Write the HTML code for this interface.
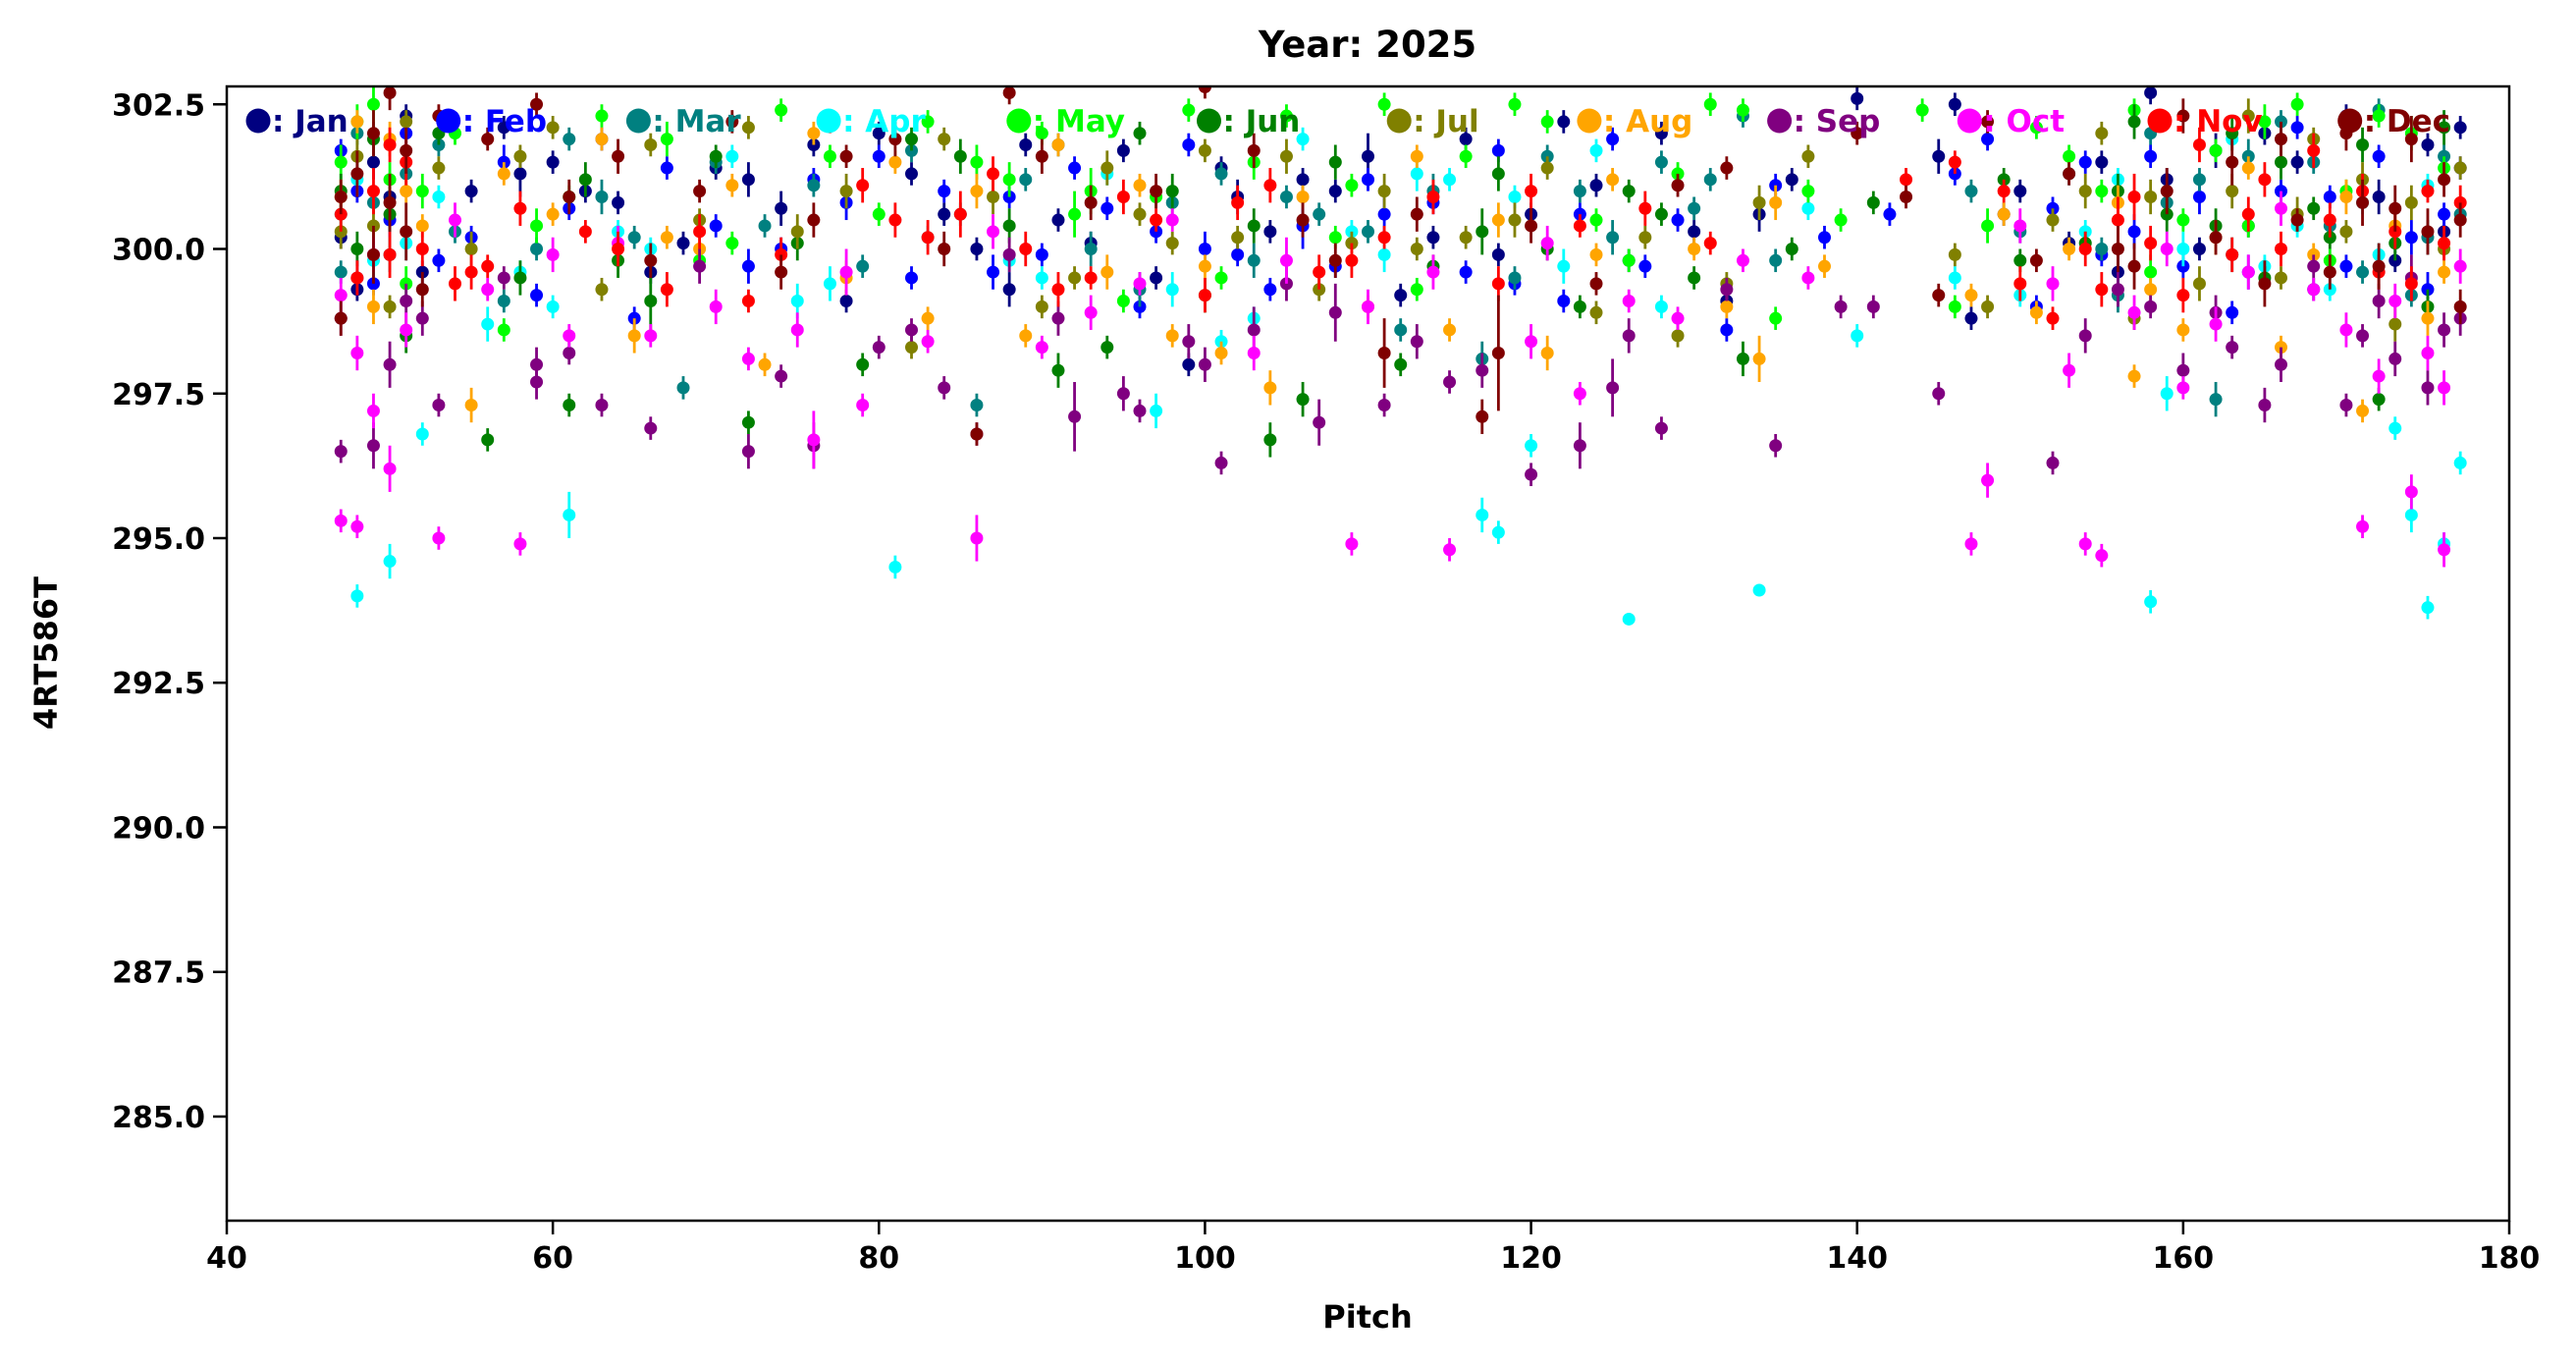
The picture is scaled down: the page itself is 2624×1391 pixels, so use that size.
<!DOCTYPE html>
<html><head><meta charset="utf-8">
<style>
html,body{margin:0;padding:0;background:#fff;}
svg{display:block;}
text{font-family:"DejaVu Sans","Liberation Sans",sans-serif;font-weight:bold;}
</style></head>
<body>
<svg id="chart" width="2624" height="1391" viewBox="0 0 2624 1391" xmlns="http://www.w3.org/2000/svg">
<rect x="0" y="0" width="2624" height="1391" fill="#fff"/>
<text x="1393" y="58" font-size="37" text-anchor="middle">Year: 2025</text>
<g id="marks"></g>
<g id="axes"></g>
<g id="legend"></g>
<text x="1393" y="1352" font-size="32" text-anchor="middle">Pitch</text>
<text x="58" y="665" font-size="32" text-anchor="middle" transform="rotate(-90 58 665)">4RT586T</text>
</svg>
<script>
const months = ["Jan","Feb","Mar","Apr","May","Jun","Jul","Aug","Sep","Oct","Nov","Dec"];
const colors = ["#000080","#0000ff","#008080","#00ffff","#00ff00","#008000","#808000","#ffa500","#800080","#ff00ff","#ff0000","#800000"];
const xTicks = [40,60,80,100,120,140,160,180];
const yTicks = [285.0,287.5,290.0,292.5,295.0,297.5,300.0,302.5];
const jan = [[47,300.2,.2],[49,301.5,.3],[51,302.3,.2],[55,301.0,.2],[58,301.3,.4],[60,301.5,.2],[64,300.8,.2],[68,300.1,.2],[72,301.2,.3],[76,301.8,.2],[80,302.0,.2],[84,300.6,.2],[88,299.3,.3],[91,300.5,.2],[95,301.7,.2],[99,298.0,.2],[102,300.9,.3],[106,301.2,.2],[110,301.6,.4],[114,300.2,.2],[118,299.9,.2],[122,302.2,.2],[126,299.8,.2],[130,300.3,.2],[134,300.6,.3],[140,302.6,.2],[145,301.6,.3],[147,298.8,.2],[150,301.0,.2],[155,301.5,.2],[158,302.7,.2],[161,300.0,.2],[165,302.0,.2],[168,299.3,.2],[172,300.9,.3],[175,301.8,.2],
 [48,299.3,.2],[50,300.9,.3],[52,299.6,.2],[57,302.1,.2],[62,301.0,.2],[66,299.6,.2],[70,301.4,.2],[74,300.7,.3],[78,299.1,.2],[82,301.3,.2],[86,300.0,.2],[89,301.8,.2],[93,300.1,.2],[97,299.5,.2],[101,301.4,.2],[104,300.3,.2],[108,301.0,.2],[112,299.2,.2],[116,301.9,.2],[120,300.6,.2],[124,301.1,.2],[128,302.0,.2],[132,299.1,.2],[136,301.2,.2],[146,302.5,.2],[149,300.6,.2],[153,300.1,.2],[156,299.6,.3],[159,301.2,.2],[162,301.7,.3],[164,300.4,.2],[167,301.5,.2],[170,302.3,.2],[173,299.8,.2],[176,300.3,.2],[177,302.1,.2]];
const feb = [[48,301.0,.2],[50,300.5,.3],[53,299.8,.2],[57,301.5,.3],[61,300.7,.2],[65,298.8,.2],[70,300.4,.2],[74,300.0,.2],[78,300.8,.3],[82,299.5,.2],[87,299.6,.3],[90,299.9,.2],[94,300.7,.2],[97,300.3,.2],[100,300.0,.3],[104,299.3,.2],[108,299.7,.2],[111,300.6,.4],[116,299.6,.2],[119,299.4,.2],[123,300.6,.2],[127,299.7,.2],[132,298.6,.2],[138,300.2,.2],[146,301.3,.2],[151,299.0,.2],[154,301.5,.2],[157,300.3,.3],[160,299.7,.2],[163,298.9,.2],[166,301.0,.2],[170,299.7,.2],[174,300.2,.3],[176,300.6,.2],
 [47,301.7,.2],[49,299.4,.2],[51,302.0,.3],[55,300.2,.2],[59,299.2,.2],[63,301.9,.2],[67,301.4,.2],[72,299.7,.3],[76,301.2,.2],[80,301.6,.2],[84,301.0,.2],[88,300.9,.2],[92,301.4,.2],[96,299.0,.2],[99,301.8,.2],[102,299.9,.2],[106,300.4,.4],[110,301.2,.2],[114,300.8,.2],[118,301.7,.2],[122,299.1,.2],[125,301.9,.2],[129,300.5,.2],[135,301.1,.2],[142,300.6,.2],[148,301.9,.2],[152,300.7,.2],[155,299.9,.2],[158,301.6,.2],[161,300.9,.3],[164,299.6,.3],[167,302.1,.2],[169,300.9,.2],[172,301.6,.2],[175,299.3,.3],[177,301.4,.2]];
const mar = [[49,300.8,.2],[51,301.3,.3],[54,300.3,.2],[59,300.0,.2],[63,300.9,.3],[68,297.6,.2],[73,300.4,.2],[79,299.7,.2],[86,297.3,.2],[89,301.2,.2],[93,300.0,.3],[98,300.8,.2],[103,299.8,.3],[107,300.6,.2],[112,298.6,.2],[117,298.1,.3],[121,301.6,.2],[125,300.2,.3],[128,301.5,.2],[131,301.2,.2],[135,299.8,.2],[150,300.3,.2],[156,299.2,.3],[159,300.8,.2],[162,297.4,.3],[164,301.6,.3],[169,300.4,.2],[171,299.6,.2],[175,300.2,.3],
 [47,299.6,.2],[48,302.0,.2],[50,299.9,.3],[53,301.8,.2],[57,299.1,.2],[61,301.9,.2],[65,300.2,.2],[70,301.5,.2],[76,301.1,.2],[82,301.7,.2],[85,300.6,.2],[91,301.8,.2],[96,299.3,.3],[101,301.3,.2],[105,300.9,.2],[110,300.3,.2],[114,301.0,.3],[119,299.5,.2],[123,301.0,.2],[130,300.7,.2],[133,302.3,.2],[147,301.0,.2],[153,301.3,.2],[155,300.0,.2],[158,302.0,.2],[161,301.2,.2],[163,299.9,.3],[166,302.2,.2],[168,301.5,.2],[172,302.4,.2],[174,299.2,.2],[176,301.6,.2],[177,300.6,.2]];
const apr = [[48,294.0,.2],[50,294.6,.3],[52,296.8,.2],[56,298.7,.3],[61,295.4,.4],[66,300.0,.2],[75,299.1,.3],[81,294.5,.2],[88,299.8,.2],[97,297.2,.3],[101,298.4,.2],[109,300.3,.2],[113,301.3,.3],[117,295.4,.3],[118,295.1,.2],[120,296.6,.2],[124,301.7,.2],[126,293.6,.1],[134,294.1,.1],[140,298.5,.2],[146,299.5,.2],[158,293.9,.2],[159,297.5,.3],[167,300.4,.2],[173,296.9,.2],[174,295.4,.3],[175,293.8,.2],[176,294.9,.2],[177,296.3,.2],
 [47,300.6,.2],[48,301.2,.3],[49,299.8,.3],[51,300.1,.3],[53,300.9,.2],[58,299.6,.2],[60,299.0,.2],[64,300.3,.2],[71,301.6,.2],[77,299.4,.3],[83,300.2,.2],[90,299.5,.2],[94,301.3,.2],[98,299.3,.3],[103,298.8,.2],[106,301.9,.2],[111,299.9,.3],[115,301.2,.2],[119,300.9,.2],[122,299.7,.3],[128,299.0,.2],[137,300.7,.2],[150,299.2,.2],[154,300.3,.2],[156,301.2,.2],[160,300.0,.3],[163,301.9,.2],[165,299.7,.2],[169,299.3,.2],[171,300.8,.2],[172,299.9,.2],[175,301.1,.2]];
const may = [[47,301.5,.3],[49,302.5,.3],[52,301.0,.3],[57,298.6,.2],[61,300.9,.2],[67,301.9,.3],[71,300.1,.2],[77,301.6,.2],[83,302.2,.2],[88,301.2,.3],[92,300.6,.4],[95,299.1,.2],[99,302.4,.2],[103,301.5,.3],[108,300.2,.2],[111,302.5,.2],[116,301.6,.2],[121,302.2,.2],[126,299.8,.2],[131,302.5,.2],[135,298.8,.2],[139,300.5,.2],[144,302.4,.2],[148,300.4,.3],[153,301.6,.2],[157,302.4,.2],[160,300.5,.2],[165,302.2,.3],[170,301.0,.2],[174,302.0,.3],
 [48,302.2,.3],[50,301.2,.3],[51,299.4,.3],[54,302.0,.2],[59,300.4,.3],[63,302.3,.2],[69,299.8,.2],[74,302.4,.2],[80,300.6,.2],[86,301.5,.3],[90,302.0,.2],[93,301.0,.4],[97,300.9,.2],[101,299.5,.2],[105,302.3,.2],[109,301.1,.2],[113,299.3,.2],[119,302.5,.2],[124,300.5,.2],[129,301.3,.2],[133,302.4,.2],[137,301.0,.2],[146,299.0,.2],[151,302.1,.2],[155,301.0,.2],[158,299.6,.3],[162,301.7,.2],[164,300.4,.2],[167,302.5,.2],[169,299.8,.2],[172,302.3,.2],[176,301.4,.2]];
const jun = [[48,300.0,.3],[51,298.5,.3],[56,296.7,.2],[61,297.3,.2],[66,299.1,.5],[72,297.0,.2],[79,298.0,.2],[85,301.6,.3],[91,297.9,.3],[94,298.3,.2],[98,301.0,.3],[104,296.7,.3],[106,297.4,.3],[112,298.0,.2],[117,300.3,.4],[121,300.0,.2],[126,301.0,.2],[130,299.5,.2],[133,298.1,.3],[141,300.8,.2],[150,299.8,.2],[156,301.0,.3],[162,300.4,.3],[165,299.5,.2],[169,300.2,.2],[172,297.4,.2],[175,299.0,.3],
 [47,301.0,.3],[49,301.9,.3],[50,300.6,.3],[53,302.0,.2],[58,299.5,.3],[62,301.2,.3],[64,299.8,.3],[70,301.6,.2],[75,300.1,.3],[82,301.9,.2],[88,300.4,.3],[96,302.0,.2],[100,299.2,.3],[103,300.4,.3],[108,301.5,.3],[114,299.7,.2],[118,301.3,.3],[123,299.0,.2],[128,300.6,.2],[136,300.0,.2],[149,301.2,.2],[154,300.1,.2],[157,302.2,.3],[159,300.6,.3],[163,302.0,.3],[166,301.5,.3],[168,300.7,.2],[171,301.8,.3],[173,300.1,.3],[176,302.1,.3]];
const jul = [[47,300.3,.3],[50,299.0,.2],[53,301.4,.2],[58,301.6,.2],[63,299.3,.2],[69,300.5,.2],[75,300.3,.3],[82,298.3,.2],[87,300.9,.3],[92,299.5,.2],[96,300.6,.2],[100,301.7,.2],[105,301.6,.3],[109,300.1,.2],[113,300.0,.2],[119,300.5,.3],[124,298.9,.2],[129,298.5,.2],[134,300.8,.3],[137,301.6,.2],[148,299.0,.2],[154,301.0,.3],[157,298.8,.2],[163,301.0,.3],[166,299.5,.2],[170,300.3,.2],[173,298.7,.3],[176,300.0,.2],
 [48,301.6,.3],[49,300.4,.3],[51,302.2,.2],[55,300.0,.3],[60,302.1,.2],[66,301.8,.2],[72,302.1,.2],[78,301.0,.3],[84,301.9,.2],[90,299.0,.2],[94,301.4,.3],[98,300.1,.2],[102,300.2,.2],[107,299.3,.2],[111,301.0,.3],[116,300.2,.2],[121,301.4,.2],[127,300.2,.2],[132,299.4,.2],[146,299.9,.2],[152,300.5,.2],[155,302.0,.2],[158,300.9,.3],[161,299.4,.3],[164,302.3,.3],[167,300.6,.3],[168,301.9,.2],[171,301.2,.3],[174,300.8,.3],[177,301.4,.2]];
const aug = [[49,299.0,.3],[51,301.0,.2],[55,297.3,.3],[60,300.6,.2],[65,298.5,.3],[69,300.0,.2],[73,298.0,.2],[78,299.5,.3],[83,298.8,.2],[89,298.5,.2],[94,299.6,.3],[98,298.5,.2],[101,298.2,.2],[104,297.6,.3],[110,299.0,.2],[115,298.6,.2],[121,298.2,.3],[124,299.9,.2],[132,299.0,.2],[134,298.1,.4],[135,300.8,.3],[147,299.2,.2],[151,298.9,.2],[157,297.8,.2],[160,298.6,.2],[166,298.3,.2],[171,297.2,.2],[175,298.8,.3],
 [47,300.9,.3],[48,302.2,.2],[50,301.9,.3],[52,300.4,.2],[57,301.3,.2],[63,301.9,.2],[67,300.2,.2],[71,301.1,.2],[76,302.0,.2],[81,301.5,.2],[86,301.0,.3],[91,301.8,.2],[96,301.1,.2],[100,299.7,.2],[106,300.9,.2],[113,301.6,.2],[118,300.5,.3],[125,301.2,.2],[130,300.0,.2],[138,299.7,.2],[149,300.6,.2],[153,300.0,.2],[156,300.8,.3],[158,299.3,.2],[162,300.2,.3],[164,301.4,.2],[168,299.9,.2],[170,300.9,.3],[173,300.4,.2],[176,299.6,.2]];
const sep = [[47,296.5,.2],[49,296.6,.4],[52,298.8,.3],[57,299.5,.2],[59,297.7,.3],[63,297.3,.2],[66,296.9,.2],[72,296.5,.3],[76,296.6,.4],[80,298.3,.2],[84,297.6,.2],[86,296.8,.2],[92,297.1,.6],[96,297.2,.2],[100,298.0,.3],[101,296.3,.2],[105,299.4,.3],[108,298.9,.5],[111,297.3,.2],[115,297.7,.2],[120,296.1,.2],[123,296.6,.4],[125,297.6,.5],[128,296.9,.2],[135,296.6,.2],[139,299.0,.2],[145,297.5,.2],[152,296.3,.2],[156,299.3,.3],[163,298.3,.2],[165,297.3,.3],[171,298.5,.2],[174,299.5,.4],[177,298.8,.3],
 [47,298.8,.3],[48,299.5,.3],[50,298.0,.4],[51,299.1,.3],[53,297.3,.2],[59,298.0,.3],[61,298.2,.2],[69,299.7,.3],[74,297.8,.2],[82,298.6,.2],[88,299.9,.3],[91,298.8,.3],[95,297.5,.3],[99,298.4,.3],[103,298.6,.4],[107,297.0,.4],[113,298.4,.3],[117,297.9,.3],[126,298.5,.3],[132,299.3,.2],[141,299.0,.2],[154,298.5,.3],[158,299.0,.2],[160,297.9,.3],[162,298.9,.3],[166,298.0,.3],[168,299.7,.2],[170,297.3,.2],[172,299.1,.3],[173,298.1,.3],[175,297.6,.3],[176,298.6,.3]];
const oct = [[47,295.3,.2],[48,295.2,.2],[49,297.2,.3],[50,296.2,.4],[53,295.0,.2],[58,294.9,.2],[61,298.5,.2],[66,298.5,.2],[72,298.1,.2],[76,296.7,.5],[79,297.3,.2],[86,295.0,.4],[90,298.3,.2],[96,299.4,.2],[103,298.2,.3],[109,294.9,.2],[115,294.8,.2],[120,298.4,.3],[123,297.5,.2],[129,298.8,.2],[137,299.5,.2],[147,294.9,.2],[148,296.0,.3],[153,297.9,.3],[154,294.9,.2],[155,294.7,.2],[160,297.6,.2],[164,299.6,.3],[168,299.3,.2],[171,295.2,.2],[174,295.8,.3],[176,294.8,.3],[175,298.2,.3],
 [47,299.2,.3],[48,298.2,.3],[49,299.9,.3],[51,298.6,.3],[54,300.5,.3],[56,299.3,.2],[60,299.9,.3],[64,300.1,.3],[70,299.0,.3],[75,298.6,.3],[78,299.6,.4],[83,298.4,.2],[87,300.3,.3],[93,298.9,.3],[98,300.5,.2],[105,299.8,.4],[110,299.0,.3],[114,299.6,.3],[121,300.1,.3],[126,299.1,.2],[133,299.8,.2],[150,300.4,.3],[152,299.4,.3],[157,298.9,.3],[159,300.0,.3],[162,298.7,.3],[166,300.7,.3],[170,298.6,.3],[172,297.8,.3],[173,299.1,.3],[176,297.6,.3],[177,299.7,.3]];
const nov = [[48,299.5,.3],[50,301.8,.3],[54,299.4,.3],[56,299.7,.2],[62,300.3,.2],[67,299.3,.3],[72,299.1,.2],[77,302.2,.2],[81,300.5,.3],[85,300.6,.4],[89,300.0,.3],[93,299.5,.2],[97,300.5,.2],[102,300.8,.3],[107,299.6,.3],[111,300.2,.2],[118,299.4,.3],[123,300.4,.2],[131,300.1,.2],[143,301.2,.2],[149,301.0,.2],[152,298.8,.2],[156,300.5,.4],[158,300.1,.3],[161,301.8,.3],[164,300.6,.3],[168,301.7,.3],[172,299.6,.3],[175,301.0,.2],[177,300.8,.3],
 [47,300.6,.3],[49,301.0,.4],[50,299.9,.4],[51,301.5,.4],[52,300.0,.3],[55,299.6,.3],[58,300.7,.3],[64,300.0,.3],[69,300.3,.3],[74,299.9,.3],[79,301.1,.3],[83,300.2,.3],[87,301.3,.3],[91,299.3,.3],[95,300.9,.3],[100,299.2,.3],[104,301.1,.3],[109,299.8,.3],[114,300.9,.3],[120,301.0,.3],[127,300.7,.3],[146,301.5,.2],[150,299.4,.3],[154,300.0,.3],[155,299.3,.3],[157,300.9,.4],[160,299.2,.3],[163,299.9,.3],[165,301.2,.3],[166,300.0,.3],[169,300.5,.3],[171,301.0,.3],[173,300.3,.3],[174,299.4,.3],[176,300.1,.3]];
const dec = [[47,298.8,.3],[49,302.0,.4],[50,302.7,.3],[51,300.3,.5],[53,302.3,.2],[59,302.5,.2],[64,301.6,.3],[69,301.0,.2],[74,299.6,.3],[78,301.6,.2],[86,296.8,.2],[88,302.7,.2],[93,300.8,.3],[100,302.8,.2],[106,300.5,.3],[111,298.2,.6],[117,297.1,.3],[118,298.2,1.0],[124,299.4,.2],[132,301.4,.2],[143,300.9,.2],[148,302.2,.2],[151,299.8,.2],[156,300.0,.4],[160,302.3,.3],[163,301.5,.4],[167,300.5,.2],[170,302.0,.3],[173,300.7,.4],[176,301.2,.3],[177,299.0,.3],
 [47,300.9,.3],[48,301.3,.4],[49,299.9,.5],[50,300.8,.5],[51,301.7,.4],[52,299.3,.3],[56,301.9,.2],[61,300.9,.3],[66,299.8,.3],[71,302.2,.2],[76,300.5,.3],[81,301.9,.3],[84,300.0,.3],[90,301.6,.3],[97,301.0,.3],[103,301.7,.3],[108,299.8,.3],[113,300.6,.3],[120,300.4,.3],[129,301.1,.2],[140,302.0,.2],[145,299.2,.2],[153,301.3,.2],[157,299.7,.4],[159,301.0,.4],[162,300.2,.3],[165,299.4,.4],[166,301.9,.3],[169,299.6,.3],[171,300.8,.4],[172,299.7,.4],[174,301.9,.4],[175,300.3,.4],[177,300.5,.3]];
const series = [jan,feb,mar,apr,may,jun,jul,aug,sep,oct,nov,dec];

const NS = "http://www.w3.org/2000/svg";
const L = 231, R = 2556, T = 88, B = 1243;
const XMIN = 40, XMAX = 180, YMIN = 283.2, YMAX = 302.81;
function xs(v){ return L + (v - XMIN) / (XMAX - XMIN) * (R - L); }
function ys(v){ return B - (v - YMIN) / (YMAX - YMIN) * (B - T); }
function mk(tag, attrs, parent){ const e = document.createElementNS(NS, tag); for (const k in attrs) e.setAttribute(k, attrs[k]); parent.appendChild(e); return e; }

const marks = document.getElementById("marks");
const clip = mk("clipPath", {id:"plotclip"}, document.getElementById("chart"));
mk("rect", {x:L, y:T, width:R-L, height:B-T}, clip);
marks.setAttribute("clip-path", "url(#plotclip)");
series.forEach((arr, i) => {
  const g = mk("g", {}, marks);
  
  
  arr.forEach(p => {
    const cx = xs(p[0]);
    const ln = mk("line", {x1:cx, x2:cx, y1:ys(p[1]-p[2]), y2:ys(p[1]+p[2]), stroke:colors[i], "stroke-width":2.8}, g);
    
    
    const c = mk("circle", {cx:cx, cy:ys(p[1]), r:6.5, fill:colors[i]}, g);
    
    
  });
});

const axes = document.getElementById("axes");
const frame = mk("rect", {x:L, y:T, width:R-L, height:B-T, fill:"none", stroke:"#000", "stroke-width":2.5}, axes);


xTicks.forEach(t => {
  const x = xs(t);
  mk("line", {x1:x, x2:x, y1:B, y2:B+14, stroke:"#000", "stroke-width":2.5}, axes);
  const tx = mk("text", {x:x, y:B+48, "font-size":30, "text-anchor":"middle"}, axes);
  tx.textContent = String(t);
  
  
});
yTicks.forEach(t => {
  const y = ys(t);
  mk("line", {x1:L-14, x2:L, y1:y, y2:y, stroke:"#000", "stroke-width":2.5}, axes);
  const tx = mk("text", {x:L-22, y:y+11, "font-size":30, "text-anchor":"end"}, axes);
  tx.textContent = t.toFixed(1);
  
  
});

const legend = document.getElementById("legend");
months.forEach((m, i) => {
  const g = mk("g", {}, legend);
  
  
  const cx = 263 + i * 193.7;
  mk("circle", {cx:cx, cy:123, r:12.5, fill:colors[i]}, g);
  const tx = mk("text", {x:cx+14, y:134, "font-size":31, fill:colors[i]}, g);
  tx.textContent = ": " + m;
});
</script>
</body></html>
